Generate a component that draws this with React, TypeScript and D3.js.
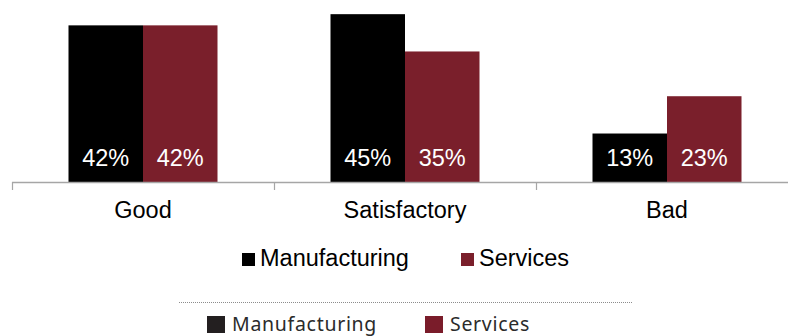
import React from "react";
import * as d3 from "d3";

const categories = ["Good", "Satisfactory", "Bad"];
const seriesNames = ["Manufacturing", "Services"];
const manufacturing = [42, 45, 13];
const services = [42, 35, 23];
const seriesColors = ["#000000", "#7a1f2b"];
const legend2Colors = ["#231f20", "#7a1c2a"];

const W = 788;
const H = 336;

export default function App() {
  const x0 = d3.scaleBand<string>().domain(categories).range([12, 798]).padding(0);
  const groupW = 149;
  const x1 = d3.scaleBand<string>().domain(seriesNames).range([0, groupW]).padding(0);
  const y = d3.scaleLinear().domain([0, 48.8]).range([182, 0]);
  const values = [manufacturing, services];
  const font = "'Liberation Sans', Arial, sans-serif";

  return (
    <div style={{ position: "absolute", left: 0, top: 0 }}>
      <svg width={W} height={H} style={{ display: "block", background: "#fff" }}>
        {categories.map((c, ci) => {
          const gx = (x0(c) as number) + (x0.bandwidth() - groupW) / 2;
          return (
            <g key={c}>
              {seriesNames.map((s, si) => {
                const v = values[si][ci];
                const bx = gx + (x1(s) as number);
                return (
                  <g key={s}>
                    <rect x={bx} y={y(v)} width={x1.bandwidth()} height={y(0) - y(v)} fill={seriesColors[si]} />
                    <text
                      x={bx + x1.bandwidth() / 2}
                      y={166}
                      textAnchor="middle"
                      fill="#fff"
                      fontFamily={font}
                      fontSize={23.5}
                    >
                      {v}%
                    </text>
                  </g>
                );
              })}
              <text
                x={(x0(c) as number) + x0.bandwidth() / 2}
                y={218}
                textAnchor="middle"
                fill="#000"
                fontFamily={font}
                fontSize={23.5}
              >
                {c}
              </text>
            </g>
          );
        })}
        <line x1={12} x2={788} y1={y(0) + 0.5} y2={y(0) + 0.5} stroke="#a6a6a6" strokeWidth={1.5} />
        {[...categories.map((c) => x0(c) as number), 798].map((tx, i) => (
          <line key={i} x1={tx + 0.5} x2={tx + 0.5} y1={y(0)} y2={y(0) + 8} stroke="#a6a6a6" strokeWidth={1.2} />
        ))}
        {/* Legend 1 */}
        {seriesNames.map((s, i) => {
          const lx = [242, 461][i];
          return (
            <g key={s}>
              <rect x={lx} y={253} width={13} height={13} fill={seriesColors[i]} />
              <text x={lx + 18} y={266} fontFamily={font} fontSize={23.5} fill="#000">
                {s}
              </text>
            </g>
          );
        })}
        <line x1={179} x2={633} y1={302.5} y2={302.5} stroke="#8c8c8c" strokeWidth={1} strokeDasharray="1,1" />
        {/* Legend 2 */}
        {seriesNames.map((s, i) => {
          const lx = [207, 425][i];
          return (
            <g key={s + "2"}>
              <rect x={lx} y={316} width={18} height={17} fill={legend2Colors[i]} />
              <text
                x={lx + 25}
                y={331}
                fontFamily="'Noto Sans', 'Open Sans', sans-serif"
                fontSize={19.5}
                letterSpacing={0.7}
                fill="#2b2b2b"
              >
                {s}
              </text>
            </g>
          );
        })}
      </svg>
    </div>
  );
}
